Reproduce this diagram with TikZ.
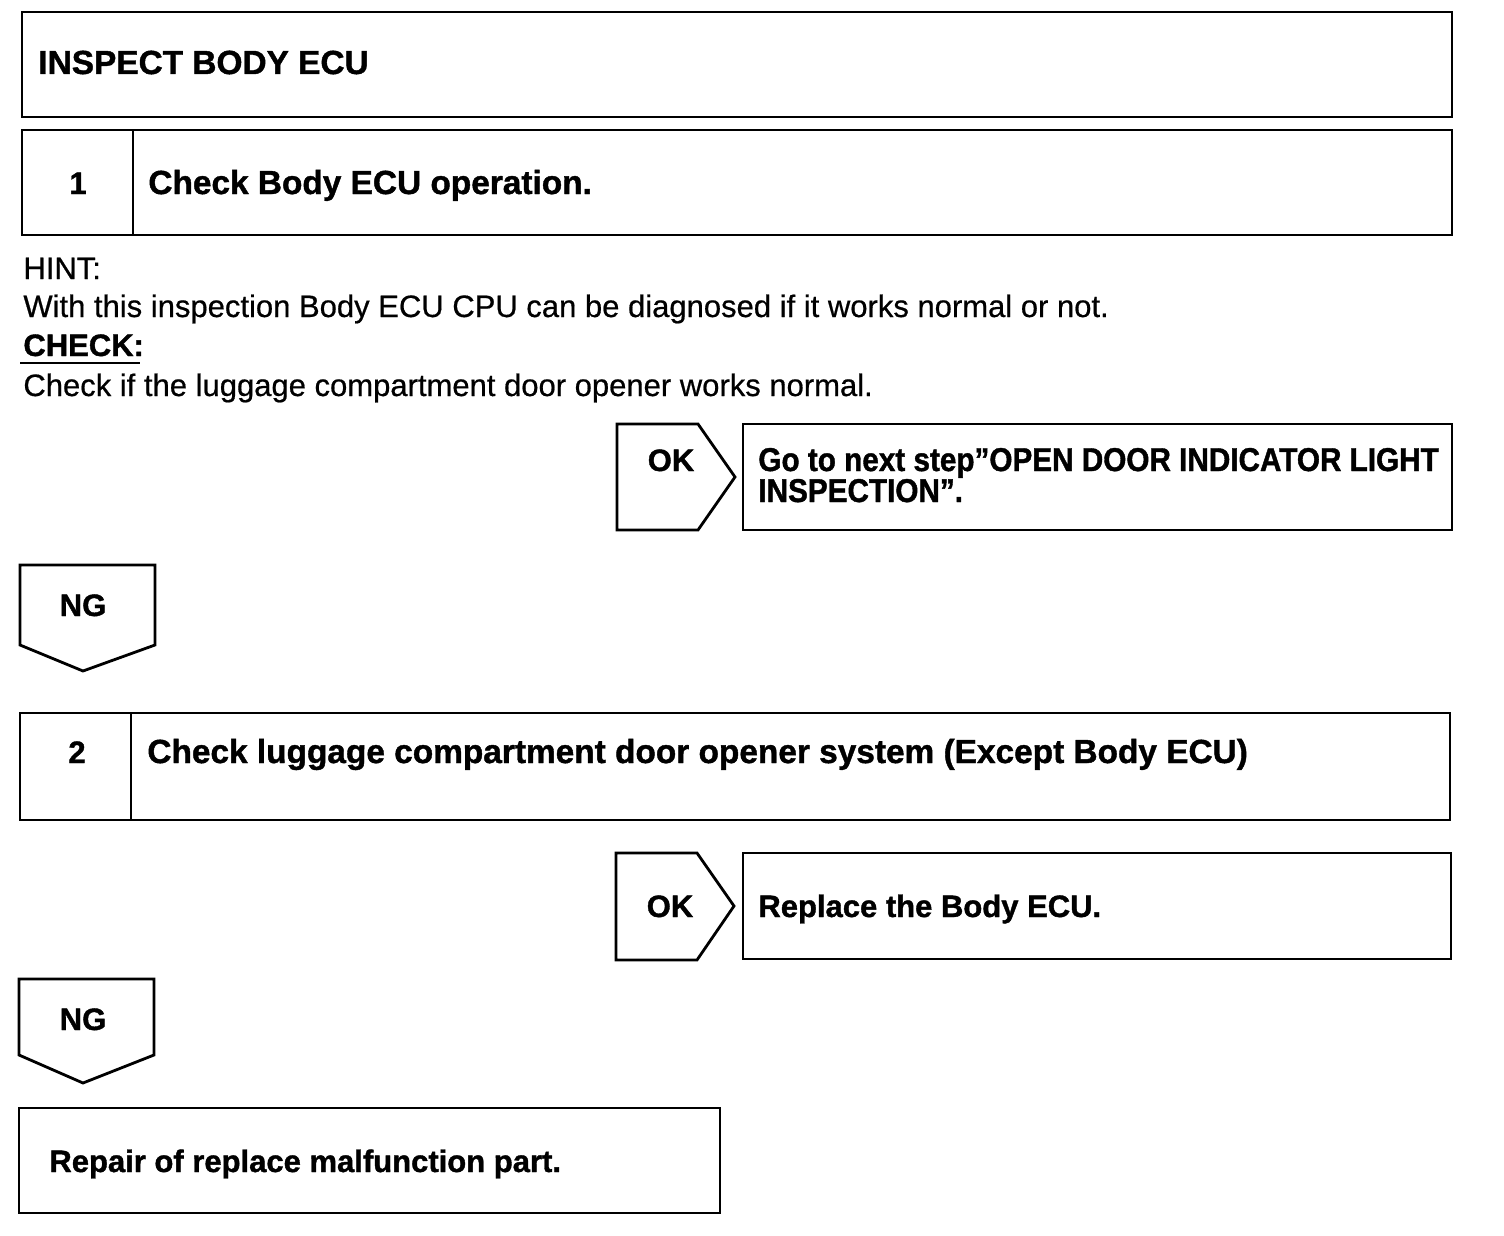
\documentclass[tikz,border=0pt]{standalone}
\usepackage{fontspec}
\setmainfont{Liberation Sans}[UprightFeatures={FakeBold=0.6},BoldFeatures={FakeBold=1.2}]
\newfontfamily\narrowfont{Liberation Sans}[FakeStretch=0.9,UprightFeatures={FakeBold=0.6},BoldFeatures={FakeBold=1.2}]
\begin{document}
\begin{tikzpicture}[x=1pt,y=-1pt,line width=2.8pt,line join=miter,
  headtext/.style={font=\fontsize{33.4}{38}\selectfont\bfseries},
  boldtext/.style={font=\fontsize{31}{36}\selectfont\bfseries},
  plaintext/.style={font=\fontsize{31}{36}\selectfont},
  narrowtext/.style={font=\fontsize{33}{38}\narrowfont\bfseries},
  every node/.style={inner sep=0pt,anchor=base west}]
\useasboundingbox (0,0) rectangle (1504,1236);
% boxes
\draw (22,12) rectangle (1452,117);
\draw (22,130) rectangle (1452,235);
\draw (133,130) -- (133,235);
\draw (617,424) -- (698,424) -- (735,477) -- (698,530) -- (617,530) -- cycle;
\draw (743,424) rectangle (1452,530);
\draw (20,565) -- (155,565) -- (155,645) -- (83,671) -- (20,645) -- cycle;
\draw (20,713) rectangle (1450,820);
\draw (131,713) -- (131,820);
\draw (616,853) -- (697,853) -- (734,906) -- (697,960) -- (616,960) -- cycle;
\draw (743,853) rectangle (1451,959);
\draw (19,979) -- (154,979) -- (154,1055) -- (83,1083) -- (19,1055) -- cycle;
\draw (19,1108) rectangle (720,1213);
% texts
\node[headtext] (v0) at (37,74) {INSPECT BODY ECU};
\node[boldtext,anchor=base] (n1) at (78,194) {1};
\node[headtext] (s1) at (147,194) {Check Body ECU operation.};
\node[plaintext] (hint) at (22,279) {HINT:};
\node[plaintext] (hint1) at (22,317) {With this inspection Body ECU CPU can be diagnosed if it works normal or not.};
\node[boldtext] (chk) at (22,356) {CHECK:};
\draw[line width=2pt] (20,363) -- (140,363);
\node[plaintext] (chk1) at (22,396) {Check if the luggage compartment door opener works normal.};
\node[boldtext,anchor=base] (ok1) at (671,471) {OK};
\node[narrowtext] (r1a) at (757,471) {Go to next step”OPEN DOOR INDICATOR LIGHT};
\node[narrowtext] (r1b) at (757,502) {INSPECTION”.};
\node[boldtext,anchor=base] (ng1) at (83,616) {NG};
\node[boldtext,anchor=base] (n2) at (77,763) {2};
\node[headtext] (s2) at (146,763) {Check luggage compartment door opener system (Except Body ECU)};
\node[boldtext,anchor=base] (ok2) at (670,917) {OK};
\node[boldtext] (r2) at (757,917) {Replace the Body ECU.};
\node[boldtext,anchor=base] (ng2) at (83,1030) {NG};
\node[boldtext] (fin) at (48,1172) {Repair of replace malfunction part.};
\end{tikzpicture}
\end{document}
